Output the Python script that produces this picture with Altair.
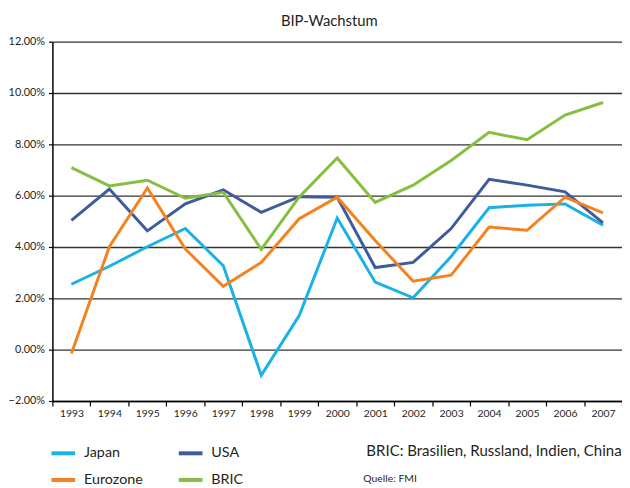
import altair as alt
import pandas as pd

years = ["1993", "1994", "1995", "1996", "1997", "1998", "1999", "2000",
         "2001", "2002", "2003", "2004", "2005", "2006", "2007"]
series = ["Japan", "Eurozone", "USA", "BRIC"]
colors = ["#1ab1e6", "#f5821f", "#3f5b9b", "#86bf3f"]

japan = [2.55, 3.25, 4.01, 4.72, 3.27, -1.0, 1.33, 5.13, 2.63, 2.02, 3.63, 5.53, 5.63, 5.68, 4.85]
usa = [5.04, 6.26, 4.63, 5.68, 6.23, 5.35, 5.96, 5.94, 3.2, 3.4, 4.72, 6.64, 6.41, 6.15, 4.94]
euro = [-0.15, 4.01, 6.3, 3.92, 2.47, 3.4, 5.1, 5.94, 4.25, 2.67, 2.9, 4.78, 4.65, 5.94, 5.33]
bric = [7.09, 6.38, 6.6, 5.9, 6.13, 3.91, 5.95, 7.47, 5.74, 6.41, 7.37, 8.47, 8.18, 9.14, 9.63]

rows = []
for name, vals in zip(["Japan", "USA", "Eurozone", "BRIC"], [japan, usa, euro, bric]):
    for yr, v in zip(years, vals):
        rows.append({"Jahr": yr, "Land": name, "Wert": v})
df = pd.DataFrame(rows)

FONT = "Lato"
TXT = "#231f20"

lines = alt.Chart(df).mark_line(strokeWidth=3).encode(
    x=alt.X("Jahr:O", bandPosition=0.5,
            scale=alt.Scale(type="band", paddingInner=0, paddingOuter=0, domain=years),
            axis=alt.Axis(title=None, tickBand="extent", labelAngle=0, labelFont=FONT,
                          labelFontSize=10.5, labelColor=TXT, domainColor="#000",
                          domainWidth=1.5, tickColor="#000", tickSize=5, tickWidth=1.2,
                          labelPadding=3, grid=False)),
    y=alt.Y("Wert:Q", scale=alt.Scale(domain=[-2, 12], nice=False),
            axis=alt.Axis(title=None, values=[-2, 0, 2, 4, 6, 8, 10, 12],
                          labelExpr="format(datum.value, '.2f') + '%'",
                          labelFont=FONT, labelFontSize=11, labelColor=TXT,
                          grid=True, gridColor="#333333", gridWidth=1.4,
                          domainColor="#000", domainWidth=1.5, tickColor="#000",
                          tickSize=4, tickWidth=1.2, labelPadding=4)),
    color=alt.Color("Land:N", scale=alt.Scale(domain=series, range=colors),
                    legend=alt.Legend(title=None, orient="none", legendX=-3, legendY=403,
                                      columns=2, symbolType="stroke", symbolStrokeWidth=4,
                                      symbolSize=576, labelFont=FONT, labelFontSize=14.5,
                                      labelColor=TXT, labelOffset=7, columnPadding=28,
                                      rowPadding=5)),
)

note = alt.Chart(alt.Data(values=[{"t": "BRIC: Brasilien, Russland, Indien, China"}])).mark_text(
    align="left", baseline="middle", font=FONT, fontSize=15.2, color=TXT
).encode(text="t:N", x=alt.value(318), y=alt.value(415))

source = alt.Chart(alt.Data(values=[{"t": "Quelle: FMI"}])).mark_text(
    align="left", baseline="middle", font=FONT, fontSize=10.5, color=TXT
).encode(text="t:N", x=alt.value(315), y=alt.value(443))

chart = alt.layer(lines, note, source).properties(
    width=577, height=364,
    title=alt.TitleParams("BIP-Wachstum", font=FONT, fontSize=15, fontWeight="normal",
                          color=TXT, anchor="middle", offset=7, dx=-8),
    autosize=alt.AutoSizeParams(type="none"),
    padding={"left": 45, "top": 31, "right": 0, "bottom": 85},
).configure_view(stroke=None)

chart.save("out.html", embed_options={"renderer": "svg", "actions": False})
